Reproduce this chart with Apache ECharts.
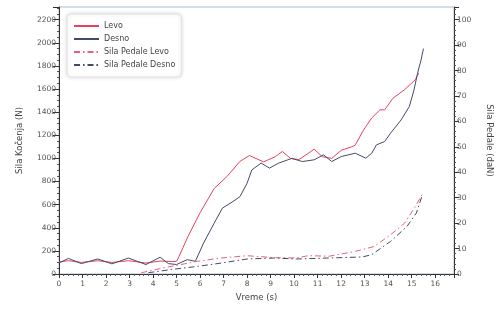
<!DOCTYPE html>
<html>
<head>
<meta charset="utf-8">
<script src="https://cdn.jsdelivr.net/npm/echarts@6/dist/echarts.min.js"></script>
<style>
  html, body { margin: 0; padding: 0; background: #fff; }
  #chart { width: 502px; height: 311px; }
</style>
</head>
<body>
<div id="chart"></div>
<script>
// Sila kocenja (N) - levi i desni tocak
const levoT = [0, 0.4, 0.95, 1.65, 2.25, 2.95, 3.7, 4.3, 4.8, 5.0, 5.1, 5.5, 6.0, 6.6, 7.15, 7.7, 8.1, 8.7, 9.2, 9.5, 9.85, 10.2, 10.5, 10.85, 11.2, 11.6, 12.0, 12.45, 12.6, 12.95, 13.3, 13.65, 13.85, 14.2, 14.7, 15.15, 15.3];
const levoV = [105, 115, 100, 115, 100, 115, 95, 112, 108, 110, 150, 330, 530, 740, 845, 975, 1025, 970, 1015, 1060, 1000, 990, 1030, 1080, 1015, 1000, 1070, 1100, 1115, 1245, 1350, 1420, 1420, 1520, 1595, 1680, 1740];

const desnoT = [0, 0.4, 0.95, 1.65, 2.25, 2.95, 3.7, 4.3, 4.65, 5.0, 5.45, 5.8, 6.15, 6.6, 6.95, 7.4, 7.7, 8.0, 8.2, 8.6, 8.95, 9.35, 9.9, 10.35, 10.85, 11.25, 11.6, 12.0, 12.6, 13.05, 13.3, 13.5, 13.85, 14.1, 14.55, 14.9, 15.1, 15.25, 15.4, 15.5];
const desnoV = [95, 135, 90, 130, 88, 138, 82, 145, 90, 82, 124, 110, 268, 440, 570, 627, 670, 786, 900, 960, 916, 960, 1000, 973, 988, 1031, 973, 1016, 1045, 1002, 1045, 1117, 1146, 1218, 1333, 1449, 1593, 1737, 1852, 1950];

// Sila pedale (daN)
const pedLevoT = [3.5, 4.5, 5.9, 6.9, 8.0, 9.2, 10.1, 10.6, 11.5, 12.6, 13.4, 14.1, 14.7, 15.2, 15.45];
const pedLevoV = [0.5, 2.5, 5, 6.3, 7.2, 6.4, 6.3, 7.2, 7.0, 8.9, 10.8, 15.4, 20, 27.2, 31.5];

const pedDesnoT = [3.8, 4.8, 5.9, 6.9, 8.0, 9.2, 10.1, 11.5, 12.9, 13.3, 14.1, 14.8, 15.2, 15.45];
const pedDesnoV = [0.5, 1.8, 3, 4.3, 5.9, 6.3, 5.9, 6.3, 6.7, 7.6, 12.8, 18.7, 24, 31];

const pairs = (t, v) => t.map((x, i) => [x, v[i]]);

const font = 'DejaVu Sans';
const labelStyle = { fontFamily: font, fontSize: 7.5, color: '#555', formatter: v => String(v) };

const chart = echarts.init(document.getElementById('chart'));

chart.setOption({
  animation: false,
  grid: {
    left: 59, right: 40, top: 7, bottom: 37,
    show: true, borderColor: '#a9bdd0', borderWidth: 1
  },
  legend: {
    orient: 'vertical',
    left: 67, top: 14,
    itemWidth: 25, itemHeight: 8, itemGap: 5,
    padding: [8, 6],
    backgroundColor: '#fff',
    borderColor: '#e2e2e2', borderWidth: 1, borderRadius: 4,
    shadowBlur: 4, shadowColor: 'rgba(0,0,0,0.15)',
    itemStyle: { opacity: 0 },
    textStyle: { fontFamily: font, fontSize: 8, color: '#444' },
    data: ['Levo', 'Desno', 'Sila Pedale Levo', 'Sila Pedale Desno']
  },
  xAxis: {
    type: 'value',
    min: 0, max: 16.8, interval: 1,
    name: 'Vreme (s)', nameLocation: 'middle', nameGap: 19,
    nameTextStyle: { fontFamily: font, fontSize: 8.5, color: '#444' },
    axisLine: { lineStyle: { color: '#333' } },
    axisTick: { length: 4, lineStyle: { color: '#333' } },
    minorTick: { show: true, splitNumber: 5, length: 2, lineStyle: { color: '#555' } },
    axisLabel: Object.assign({ margin: 6, showMaxLabel: false }, labelStyle),
    splitLine: { show: false }
  },
  yAxis: [{
    type: 'value',
    min: 0, max: 2310, interval: 200,
    name: 'Sila Kočenja (N)', nameLocation: 'middle', nameGap: 35,
    nameTextStyle: { fontFamily: font, fontSize: 8.5, color: '#444' },
    axisLine: { show: true, lineStyle: { color: '#333' } },
    axisTick: { show: true, length: 6, lineStyle: { color: '#333' } },
    minorTick: { show: true, splitNumber: 4, length: 2, lineStyle: { color: '#555' } },
    axisLabel: Object.assign({ margin: 3, showMaxLabel: false }, labelStyle),
    splitLine: { show: false }
  }, {
    type: 'value',
    position: 'right',
    min: 0, max: 105, interval: 10,
    name: 'Sila Pedale (daN)', nameLocation: 'middle', nameGap: 31, nameRotate: -90,
    nameTextStyle: { fontFamily: font, fontSize: 8.5, color: '#444' },
    axisLine: { show: true, lineStyle: { color: '#333' } },
    axisTick: { show: true, length: 5, lineStyle: { color: '#333' } },
    minorTick: { show: true, splitNumber: 5, length: 2, lineStyle: { color: '#555' } },
    axisLabel: Object.assign({ margin: 3, showMaxLabel: false }, labelStyle),
    splitLine: { show: false }
  }],
  series: [{
    name: 'Levo', type: 'line', yAxisIndex: 0, symbol: 'none',
    data: pairs(levoT, levoV),
    color: '#e8415e', lineStyle: { width: 1, color: '#e8415e' }
  }, {
    name: 'Desno', type: 'line', yAxisIndex: 0, symbol: 'none',
    data: pairs(desnoT, desnoV),
    color: '#434a66', lineStyle: { width: 1, color: '#434a66' }
  }, {
    name: 'Sila Pedale Levo', type: 'line', yAxisIndex: 1, symbol: 'none',
    data: pairs(pedLevoT, pedLevoV),
    color: '#e8607a', lineStyle: { width: 1, color: '#e8607a', type: [6, 3, 1.5, 3] }
  }, {
    name: 'Sila Pedale Desno', type: 'line', yAxisIndex: 1, symbol: 'none',
    data: pairs(pedDesnoT, pedDesnoV),
    color: '#434a66', lineStyle: { width: 1, color: '#434a66', type: [6, 3, 1.5, 3] }
  }]
});
</script>
</body>
</html>
